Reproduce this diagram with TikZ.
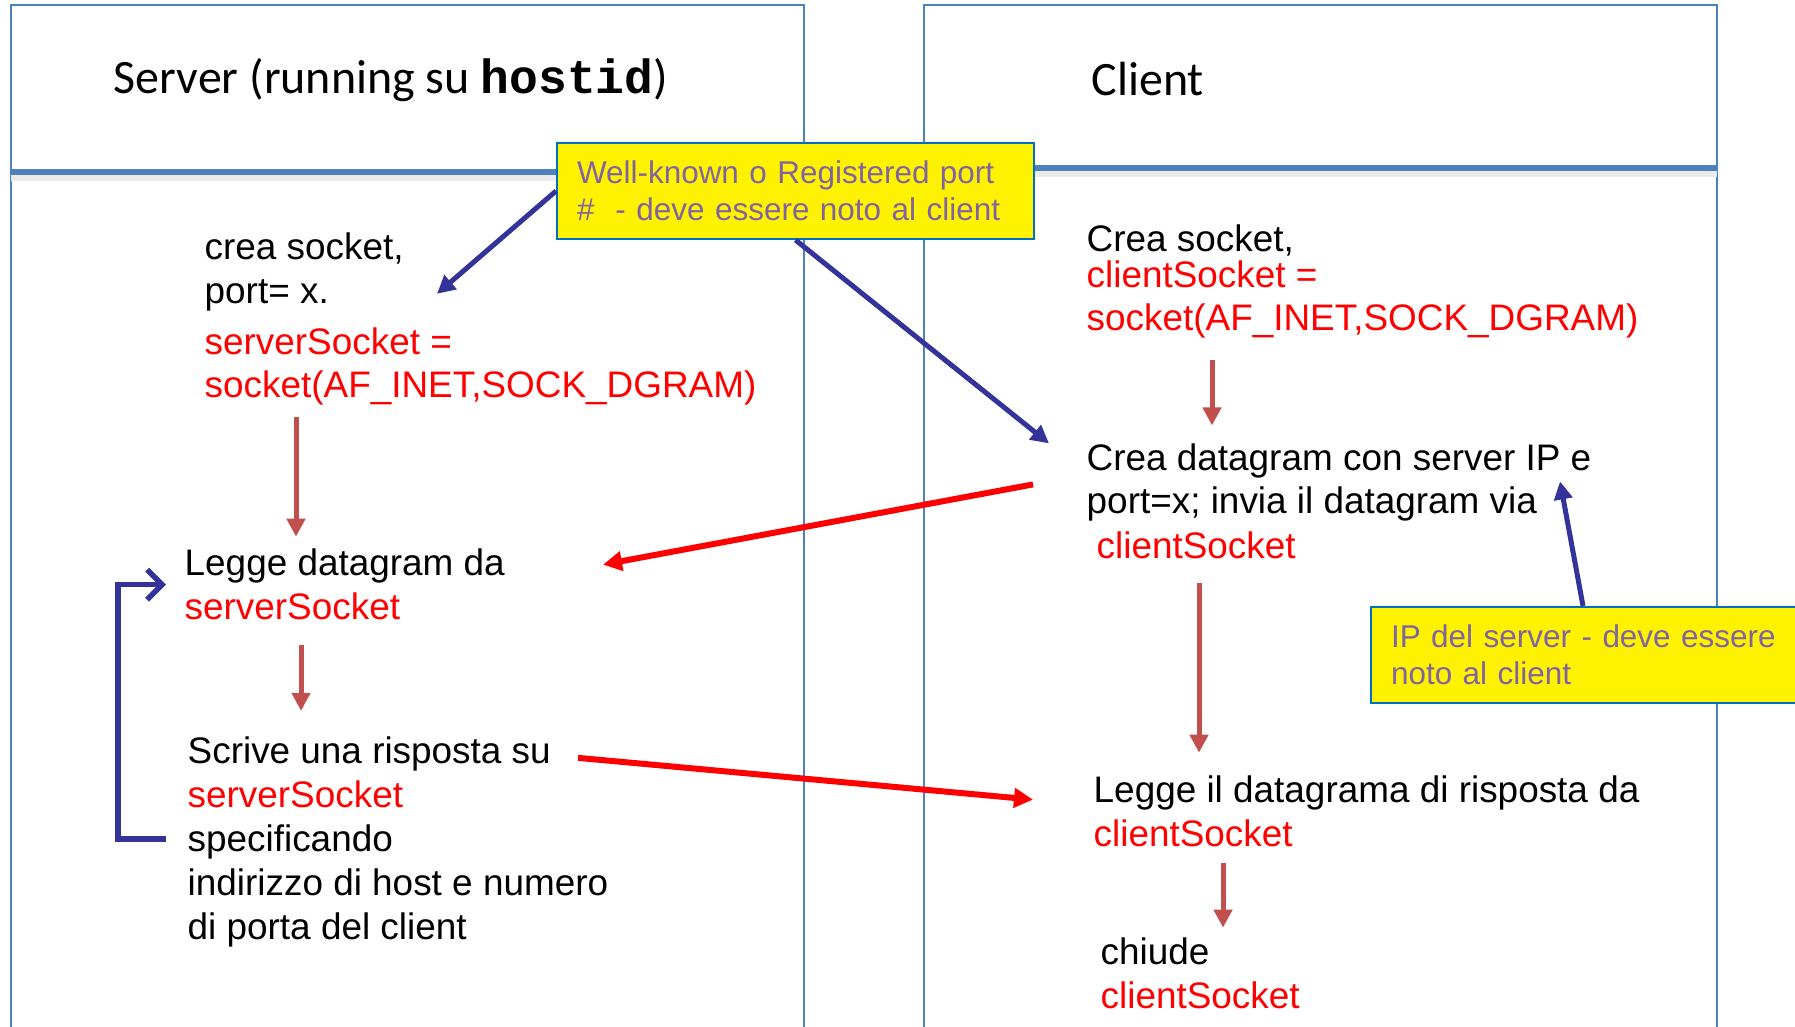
\documentclass[tikz,border=0pt]{standalone}
\usepackage{fontspec}
\setmainfont{Liberation Sans}
\newfontfamily\titlefont{Carlito}
\newfontfamily\hostfont{Liberation Mono}
\usepackage{tikz}
\usetikzlibrary{calc, positioning, arrows.meta}
\definecolor{panelblue}{RGB}{79,129,189}
\definecolor{arrowblue}{RGB}{51,51,153}
\definecolor{stepred}{RGB}{192,80,77}
\definecolor{notepurple}{RGB}{128,100,162}
\definecolor{noteborder}{RGB}{0,112,192}
\tikzset{
  txt/.style={inner sep=0pt, anchor=base west, align=left, font=\fontsize{10.5}{12.5}\selectfont},
  ttl/.style={inner sep=0pt, anchor=base west, font=\titlefont\fontsize{13.65}{16}\selectfont},
  note/.style={anchor=north west, fill=yellow, draw=noteborder, line width=0.2mm, text=notepurple, align=left, inner xsep=2mm, inner ysep=0pt, minimum height=9.6mm, font=\fontsize{8.95}{10.4}\selectfont},
  panel/.style={draw=panelblue, line width=0.15mm},
  divider/.style={draw=panelblue, line width=0.6mm},
  flowarrow/.style={draw=stepred, line width=0.5mm, -{Triangle[length=1.8mm, width=1.8mm]}},
  msgarrow/.style={draw=red, line width=0.6mm, -{Triangle[length=1.9mm, width=1.9mm]}},
  hintarrow/.style={draw=arrowblue, line width=0.5mm, -{Triangle[length=1.8mm, width=1.8mm]}},
  looparrow/.style={draw=arrowblue, line width=0.55mm, -{Straight Barb[length=1.5mm, width=3mm]}}
}

\begin{document}
\begin{tikzpicture}[x=0.1mm, y=-0.1mm]
\useasboundingbox (0,0) rectangle (1795,1026);
\clip (0,0) rectangle (1795,1026);
\fill[white] (0,0) rectangle (1795,1026);

% the two columns
\draw[panel] (11,5) rectangle (804,1040);
\draw[black!8, line width=0.6mm] (11,178) -- (804,178);
\draw[divider] (11,172) -- (804,172);
\draw[panel] (924,5) rectangle (1717,1040);
\draw[black!8, line width=0.6mm] (924,174) -- (1717,174);
\draw[divider] (924,168) -- (1717,168);

\node[ttl] (srvtitle) at (113,93) {Server (running su {\hostfont\bfseries hostid})};
\node[ttl] (clititle) at (1091,95) {Client};

% server side (nodes sit on their last baseline)
\node[txt] (srvcrea) at (204,397) {crea socket,\\port= x.\\[2pt]\textcolor{red}{serverSocket =}\\[-0.3pt]\textcolor{red}{socket(AF\_INET,SOCK\_DGRAM)}};
\node[txt] (srvlegge) at (184,619) {Legge datagram da\\\textcolor{red}{serverSocket}};
\node[txt] (srvscrive) at (187,939) {Scrive una risposta su\\\textcolor{red}{serverSocket}\\specificando\\indirizzo di host e numero\\di porta del client};

% client side
\node[txt] (clicrea) at (1086,330) {Crea socket,\\[-2.3pt]\textcolor{red}{clientSocket =}\\[-0.5pt]\textcolor{red}{socket(AF\_INET,SOCK\_DGRAM)}};
\node[txt] (clidgram) at (1086,558) {Crea datagram con server IP e\\[-0.5pt]port=x; invia il datagram via\\[0.3pt]\hspace*{1mm}\textcolor{red}{clientSocket}};
\node[txt] (clilegge) at (1093,846) {Legge il datagrama di risposta da\\\textcolor{red}{clientSocket}};
\node[txt] (clichiude) at (1100,1008) {chiude\\\textcolor{red}{clientSocket}};

\node[note, text width=43.7mm] (wknote) at (556,142) {Well-known o Registered port\\\#\ \ - deve essere noto al client};
\node[note, text width=40mm] (ipnote) at (1370,606) {IP del server - deve essere\\noto al client};

\draw[flowarrow] ($(srvcrea.south west)+(92,12)$) -- ($(srvlegge.north west)+(112,-11)$);
\draw[flowarrow] ($(srvlegge.south west)+(117,25)$) -- ($(srvscrive.north west)+(114,-25)$);
\draw[flowarrow] ($(clicrea.south west)+(126,22)$) -- ($(clidgram.north west)+(126,-18)$);
\draw[flowarrow] ($(clidgram.south west)+(113,24)$) -- ($(clilegge.north west)+(106,-22)$);
\draw[flowarrow] ($(clilegge.south west)+(130,16)$) -- ($(clichiude.north west)+(123,-9)$);

\draw[msgarrow] ($(clidgram.north west)+(-53,41)$) -- ($(srvlegge.north west)+(419,17)$);
\draw[msgarrow] ($(srvscrive.north west)+(391,22)$) -- ($(clilegge.north west)+(-60,25)$);

\draw[hintarrow] (wknote.west) -- ($(srvcrea.north west)+(233,62)$);
\draw[hintarrow] (wknote.south) -- ($(clidgram.north west)+(-37,0)$);
\draw[hintarrow] ($(ipnote.north west)+(213,0)$) -- ($(clidgram.north west)+(474,38)$);

\draw[looparrow] ($(srvscrive.north west)+(-21,103)$) -| ($(srvlegge.north west)+(-66,37)$) -- ($(srvlegge.north west)+(-18,37)$);

\end{tikzpicture}
\end{document}
